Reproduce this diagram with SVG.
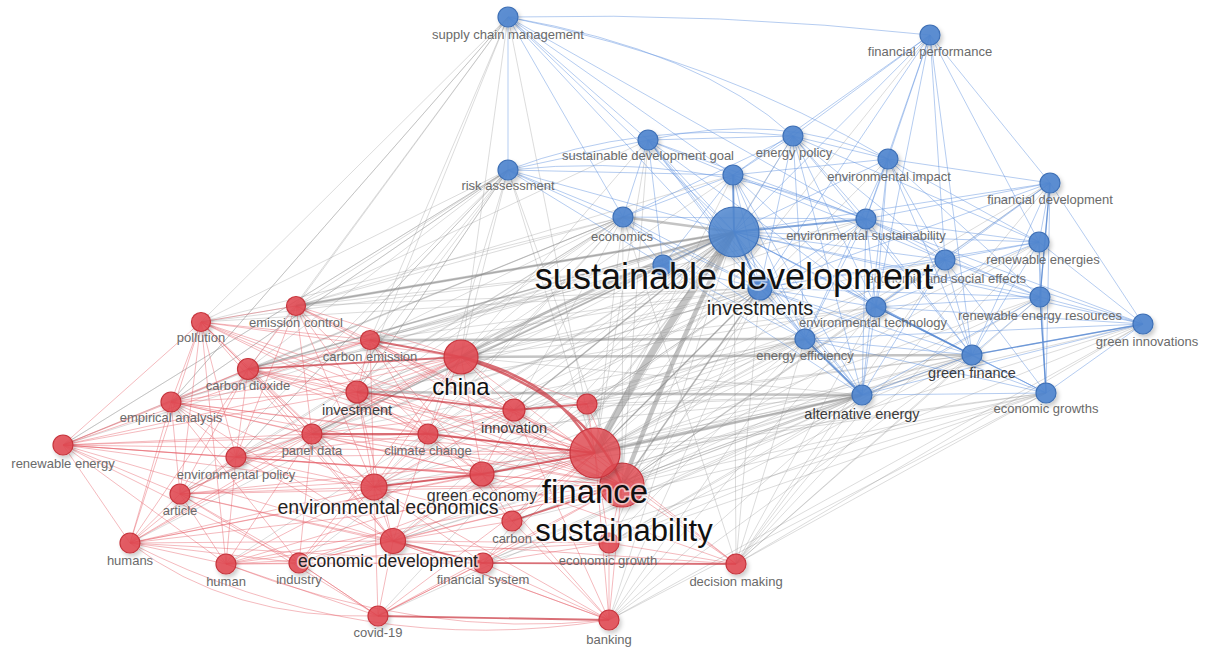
<svg xmlns="http://www.w3.org/2000/svg" width="1205" height="649" viewBox="0 0 1205 649">
<style>
.eg{fill:none;stroke:#8c8c8c;stroke-opacity:.3;stroke-width:1}
.er{fill:none;stroke:#e45a64;stroke-opacity:.42;stroke-width:1}
.eb{fill:none;stroke:#5b8ede;stroke-opacity:.45;stroke-width:1}
.tg{fill:none;stroke:#8a8a8a;stroke-opacity:.5}
.tr{fill:none;stroke:#c9323c;stroke-opacity:.7}
.tb{fill:none;stroke:#4d80cc;stroke-opacity:.7}
.nr{fill:#e14a52;fill-opacity:.88;stroke:#c7353d;stroke-width:1.2;filter:url(#sh)}
.nb{fill:#5086cf;fill-opacity:.92;stroke:#3e70b6;stroke-width:1.2;filter:url(#sh)}
.l{font-family:"Liberation Sans",Arial,sans-serif;font-size:13px;fill:#6a6a6a;text-anchor:middle}
.lm{font-family:"Liberation Sans",Arial,sans-serif;font-size:14.5px;fill:#3c3c3c;text-anchor:middle}
.lb{font-family:"Liberation Sans",Arial,sans-serif;fill:#111;text-anchor:middle;stroke:#fff;stroke-opacity:.6;stroke-width:3.5;paint-order:stroke}
</style>
<defs>
<filter id="sh" x="-60%" y="-60%" width="220%" height="220%"><feDropShadow dx="2" dy="3" stdDeviation="2" flood-color="#000" flood-opacity="0.22"/></filter>
</defs>
<rect width="1205" height="649" fill="#fff"/>
<g id="connectors">
<path class="eg" d="M201 322L508 170M201 322L623 217M201 322L734 232M201 322L760 288M201 322L663 265M201 322L508 17
M296 306L508 170M296 306L623 217M296 306L734 232M296 306L663 265M296 306L760 288M296 306L733 175M296 306L648 140M296 306L508 17
M370 340L734 232M370 340L623 217M370 340L508 170M370 340L760 288M370 340L866 219M370 340L663 265M370 340L508 17
M461 357L734 232M461 357L623 217M461 357L508 170M461 357L760 288M461 357L663 265M461 357L862 395M461 357L648 140M461 357L733 175M461 357L866 219M461 357L876 307M461 357L945 260M461 357L508 17
M248 369L734 232M248 369L623 217M248 369L508 170M248 369L663 265M248 369L760 288M248 369L508 17
M357 392L734 232M357 392L623 217M357 392L760 288M357 392L663 265M357 392L876 307M357 392L508 170
M171 402L734 232M171 402L508 170M171 402L623 217M171 402L663 265M171 402L508 17
M63 445L734 232M63 445L508 170M63 445L623 217
M312 434L734 232M312 434L623 217M312 434L760 288M312 434L508 170M312 434L805 339
M428 434L734 232M428 434L760 288M428 434L623 217M428 434L805 339M428 434L862 395M428 434L508 170
M236 457L734 232M236 457L623 217M236 457L760 288M236 457L508 170
M374 487L734 232M374 487L623 217M374 487L760 288M374 487L862 395M374 487L805 339
M180 494L734 232M180 494L623 217M130 543L734 232M226 564L734 232M299 563L734 232M299 563L862 395
M595 453L760 288M595 453L623 217M595 453L805 339M595 453L862 395M595 453L972 355M595 453L876 307M595 453L866 219M595 453L945 260M595 453L1040 297M595 453L1039 242M595 453L1046 393M595 453L648 140M595 453L733 175M595 453L508 170M595 453L793 136M595 453L888 159M595 453L1143 324M595 453L508 17M595 453L930 35M595 453L1050 183
M622 485L760 288M622 485L862 395M622 485L972 355M622 485L805 339M622 485L876 307M622 485L1046 393M622 485L1040 297M622 485L866 219M622 485L508 170M622 485L1143 324M622 485L1039 242M622 485L945 260M622 485L623 217M622 485L648 140M622 485L1050 183
M736 564L734 232M736 564L862 395M736 564L972 355M736 564L1046 393M736 564L805 339M736 564L760 288M736 564L876 307M736 564L1040 297M736 564L1143 324M736 564L1039 242M736 564L945 260M736 564L623 217M736 564L1050 183
M609 620L734 232M609 620L862 395M609 620L972 355M609 620L1046 393M609 620L760 288M609 620L1143 324M609 620L876 307M609 620L805 339
M609 543L734 232M609 543L862 395M609 543L972 355M609 543L1046 393M609 543L760 288M609 543L1143 324M609 543L1040 297M609 543L805 339
M514 410L734 232M514 410L760 288M514 410L862 395M514 410L805 339M514 410L972 355M514 410L623 217
M587 404L734 232M587 404L760 288M587 404L862 395M587 404L805 339M587 404L972 355M587 404L876 307M587 404L945 260
M482 474L734 232M482 474L862 395M482 474L972 355M482 474L805 339M482 474L760 288M482 474L1046 393
M393 541L734 232M393 541L862 395M393 541L972 355M393 541L760 288
M512 521L734 232M512 521L862 395M512 521L1046 393M512 521L972 355
M483 563L734 232M483 563L862 395M483 563L1046 393M483 563L972 355
M378 616L734 232M378 616L862 395
M508 170L171 402M508 170L63 445M508 170L236 457M508 170L357 392M508 170L180 494
M508 17L171 402M508 17L357 392"/>
<path class="er" d="M63 445L201 322M63 445L248 369M63 445L171 402M63 445L236 457M63 445L180 494M63 445L130 543M63 445L226 564M63 445L312 434M63 445L357 392M63 445L374 487M63 445L595 453M63 445L622 485M63 445L461 357M63 445L393 541M63 445L299 563M63 445L370 340M63 445L428 434M63 445L482 474
M130 543L180 494M130 543L236 457M130 543L171 402M130 543L201 322M130 543L248 369M130 543L312 434M130 543L226 564M130 543L299 563M130 543L393 541M130 543L374 487M130 543L595 453M130 543L622 485M130 543L483 563M130 543L482 474M130 543L461 357M130 543Q230 620 378 616M130 543Q360 660 609 620
M201 322L296 306M201 322L248 369M201 322L171 402M201 322L236 457M201 322L180 494M201 322L312 434M201 322L357 392M201 322L370 340M201 322L461 357M201 322L374 487M201 322L595 453M201 322L622 485M201 322L393 541M201 322L428 434M201 322L226 564
M171 402L248 369M171 402L236 457M171 402L180 494M171 402L312 434M171 402L357 392M171 402L461 357M171 402L595 453M171 402L622 485M171 402L374 487M171 402L393 541M171 402L370 340M171 402L428 434M171 402L482 474M171 402L299 563
M180 494L236 457M180 494L226 564M180 494L299 563M180 494L374 487M180 494L393 541M180 494L312 434M180 494L595 453M180 494L622 485M180 494L482 474M180 494L483 563M180 494L248 369M180 494L378 616M180 494L461 357
M226 564L299 563M226 564L393 541M226 564L374 487M226 564L378 616M226 564L236 457M226 564L312 434M226 564L595 453M226 564L622 485M226 564L483 563M226 564L609 543M226 564Q420 640 609 620
M299 563L393 541M299 563L378 616M299 563L483 563M299 563L374 487M299 563L595 453M299 563L622 485M299 563L461 357M299 563L312 434
M248 369L357 392M248 369L370 340M248 369L312 434M248 369L236 457M248 369L374 487M248 369L428 434M248 369L595 453M248 369L622 485M248 369L514 410M248 369L296 306M248 369L393 541
M296 306L370 340M296 306L461 357M296 306L357 392M296 306L312 434M296 306L428 434M296 306L595 453M296 306L622 485M296 306L374 487M296 306L236 457
M370 340L357 392M370 340L428 434M370 340L595 453M370 340L622 485M370 340L514 410M370 340L374 487M370 340L482 474
M357 392L461 357M357 392L595 453M357 392L622 485M357 392L374 487M357 392L428 434M357 392L482 474M357 392L393 541
M312 434L595 453M312 434L622 485M312 434L374 487M312 434L514 410M312 434L482 474M312 434L393 541M312 434L461 357
M428 434L595 453M428 434L622 485M428 434L482 474M428 434L514 410M428 434L461 357M428 434L374 487M428 434L393 541M428 434L512 521
M236 457L374 487M236 457L595 453M236 457L622 485M236 457L312 434M236 457L393 541M236 457L482 474M236 457L428 434M236 457L461 357
M374 487L622 485M374 487L482 474M374 487L393 541M374 487L512 521M374 487L483 563M374 487L461 357M374 487L514 410
M393 541L595 453M393 541L622 485M393 541L512 521M393 541L482 474M393 541L609 543M393 541L378 616M393 541L609 620
M483 563L595 453M483 563L622 485M483 563L609 543M483 563L609 620M483 563L378 616
M378 616L595 453M378 616L622 485M378 616L374 487M378 616L483 563M378 616L299 563
M609 620L595 453M609 620L622 485M609 620L609 543M609 620L512 521M609 620L393 541M609 620L482 474M609 620L374 487M609 620L514 410
M736 564L595 453M736 564L622 485M736 564L609 543M736 564L482 474M736 564L393 541M736 564L461 357
M461 357L514 410M461 357L587 404M461 357L482 474M587 404L595 453M587 404L622 485M514 410L595 453M514 410L622 485M514 410L482 474
M482 474L512 521M512 521L595 453M609 543L595 453M609 543L622 485"/>
<path class="eb" d="M508 17Q720 12 930 35M508 17L508 170M508 17L648 140M508 17L623 217M508 17L734 232M508 17L733 175M508 17Q720 60 888 159M508 17L760 288M508 17L866 219M508 17Q700 50 793 136
M930 35L793 136M930 35L888 159M930 35L733 175M930 35L734 232M930 35L866 219M930 35L945 260M930 35L1050 183M930 35L1039 242M930 35L760 288M930 35L876 307M930 35L972 355
M648 140L793 136M648 140L508 170M648 140L733 175M648 140L623 217M648 140L734 232M648 140L866 219M648 140L760 288M648 140L663 265M648 140L876 307M648 140L805 339M648 140L862 395M648 140Q780 110 888 159
M793 136L888 159M793 136L733 175M793 136L734 232M793 136L866 219M793 136L623 217M793 136L760 288M793 136L1039 242M793 136L876 307M793 136L805 339M793 136L972 355M793 136L862 395M793 136L945 260M793 136Q640 120 508 170
M888 159L733 175M888 159L734 232M888 159L866 219M888 159L1050 183M888 159L1039 242M888 159L945 260M888 159L876 307M888 159L1040 297M888 159L972 355M888 159L862 395M888 159L805 339
M508 170L733 175M508 170L623 217M508 170L734 232M508 170L663 265M508 170L760 288M508 170Q700 150 866 219
M733 175L623 217M733 175L734 232M733 175L866 219M733 175L760 288M733 175L663 265M733 175L876 307M733 175L805 339M733 175L862 395M733 175L945 260
M1050 183L734 232M1050 183L866 219M1050 183L1039 242M1050 183L945 260M1050 183L1040 297M1050 183L1143 324M1050 183L972 355M1050 183L1046 393M1050 183L876 307M1050 183L760 288
M623 217L663 265M623 217L760 288M623 217L805 339M623 217L866 219
M734 232L1039 242M734 232L945 260M734 232L760 288M734 232L663 265M734 232L876 307M734 232L1040 297M734 232L1143 324M734 232L805 339M734 232L972 355M734 232L862 395M734 232L1046 393
M866 219L1039 242M866 219L945 260M866 219L876 307M866 219L1040 297M866 219L972 355M866 219L760 288M866 219L805 339M866 219L862 395M866 219L1143 324
M1039 242L945 260M1039 242L1040 297M1039 242L1143 324M1039 242L972 355M1039 242L1046 393M1039 242L876 307M1039 242L760 288
M945 260L876 307M945 260L1040 297M945 260L972 355M945 260L1046 393M945 260L1143 324M945 260L760 288M945 260L862 395
M760 288L876 307M760 288L805 339M760 288L972 355M760 288L862 395M760 288L663 265M760 288L1040 297M760 288L1046 393
M876 307L1040 297M876 307L805 339M876 307L972 355M876 307L862 395M876 307L1046 393M876 307L1143 324
M1040 297L1143 324M1040 297L972 355M1040 297L1046 393M1040 297L862 395
M1143 324L972 355M1143 324L1046 393M1143 324L862 395M1143 324L805 339
M805 339L972 355M805 339L862 395M805 339L1046 393M972 355L862 395M972 355L1046 393M862 395L1046 393M663 265L805 339M663 265L862 395"/>
<path class="tg" stroke-width="7" d="M595 453Q660 330 734 232"/>
<path class="tg" stroke-width="4.5" d="M622 485Q675 350 734 232"/>
<path class="tg" stroke-width="2.5" d="M461 357Q600 280 734 232M623 217L734 232M370 340L805 339M461 357L972 355M357 392L862 395M595 453L862 395M296 306L734 232"/>
<path class="tg" stroke-width="1.6" d="M595 453L760 288M622 485L760 288M514 410L734 232M248 369L734 232M312 434L734 232"/>
<path class="tb" stroke-width="2" d="M734 232L866 219M734 232L733 175M734 232L760 288M805 339L862 395"/>
<path class="tb" stroke-width="1.4" d="M1050 183L1040 297M1040 297L1046 393M972 355L1143 324M876 307L972 355"/>
<path class="tr" stroke-width="2.5" d="M461 357Q560 380 595 453M461 357Q590 400 622 485"/>
<path class="tr" stroke-width="1.8" d="M514 410L587 404M312 434L428 434M374 487L482 474M482 474L595 453M393 541L483 563M483 563L736 564M512 521L622 485M248 369L461 357M357 392L514 410M370 340L461 357M378 616L609 620M428 434L595 453"/>
</g>
<g id="n-supply-chain-management"><circle class="nb" cx="508" cy="17" r="10"/><text class="l" x="508" y="39">supply chain management</text></g>
<g id="n-financial-performance"><circle class="nb" cx="930" cy="35" r="10"/><text class="l" x="930" y="56">financial performance</text></g>
<g id="n-sustainable-development-goal"><circle class="nb" cx="648" cy="140" r="10"/><text class="l" x="648" y="160">sustainable development goal</text></g>
<g id="n-energy-policy"><circle class="nb" cx="793" cy="136" r="10"/><text class="l" x="794" y="157">energy policy</text></g>
<g id="n-environmental-impact"><circle class="nb" cx="888" cy="159" r="10"/><text class="l" x="889" y="181">environmental impact</text></g>
<g id="n-risk-assessment"><circle class="nb" cx="508" cy="170" r="10"/><text class="l" x="508" y="190">risk assessment</text></g>
<g id="n-blue-a"><circle class="nb" cx="733" cy="175" r="10"/></g>
<g id="n-financial-development"><circle class="nb" cx="1050" cy="183" r="10"/><text class="l" x="1050" y="204">financial development</text></g>
<g id="n-economics"><circle class="nb" cx="623" cy="217" r="10"/><text class="l" x="622" y="241">economics</text></g>
<g id="n-environmental-sustainability"><circle class="nb" cx="866" cy="219" r="10"/><text class="l" x="866" y="240">environmental sustainability</text></g>
<g id="n-renewable-energies"><circle class="nb" cx="1039" cy="242" r="10"/><text class="l" x="1043" y="264">renewable energies</text></g>
<g id="n-social-effects"><circle class="nb" cx="945" cy="260" r="10"/><text class="l" x="1026" y="283" style="text-anchor:end">economic and social effects</text></g>
<g id="n-environmental-technology"><circle class="nb" cx="876" cy="307" r="10"/><text class="l" x="873" y="327">environmental technology</text></g>
<g id="n-renewable-energy-resources"><circle class="nb" cx="1040" cy="297" r="10"/><text class="l" x="1040" y="320">renewable energy resources</text></g>
<g id="n-green-innovations"><circle class="nb" cx="1143" cy="324" r="10"/><text class="l" x="1147" y="346">green innovations</text></g>
<g id="n-energy-efficiency"><circle class="nb" cx="805" cy="339" r="10"/><text class="l" x="805" y="360">energy efficiency</text></g>
<g id="n-green-finance"><circle class="nb" cx="972" cy="355" r="10"/><text class="lm" x="972" y="378">green finance</text></g>
<g id="n-alternative-energy"><circle class="nb" cx="862" cy="395" r="10"/><text class="lm" x="862" y="419">alternative energy</text></g>
<g id="n-economic-growths"><circle class="nb" cx="1046" cy="393" r="10"/><text class="l" x="1046" y="413">economic growths</text></g>
<g id="n-blue-b"><circle class="nb" cx="663" cy="265" r="10"/></g>
<g id="n-pollution"><circle class="nr" cx="201" cy="322" r="9.5"/><text class="l" x="201" y="342">pollution</text></g>
<g id="n-emission-control"><circle class="nr" cx="296" cy="306" r="9.5"/><text class="l" x="296" y="327">emission control</text></g>
<g id="n-carbon-emission"><circle class="nr" cx="370" cy="340" r="9.5"/><text class="l" x="370" y="361">carbon emission</text></g>
<g id="n-carbon-dioxide"><circle class="nr" cx="248" cy="369" r="10.5"/><text class="l" x="248" y="390">carbon dioxide</text></g>
<g id="n-investment"><circle class="nr" cx="357" cy="392" r="11"/><text class="lm" x="357" y="415">investment</text></g>
<g id="n-empirical-analysis"><circle class="nr" cx="171" cy="402" r="10"/><text class="l" x="171" y="422">empirical analysis</text></g>
<g id="n-red-a"><circle class="nr" cx="587" cy="404" r="10"/></g>
<g id="n-innovation"><circle class="nr" cx="514" cy="410" r="11"/><text class="lm" x="514" y="433">innovation</text></g>
<g id="n-panel-data"><circle class="nr" cx="312" cy="434" r="10"/><text class="l" x="312" y="455">panel data</text></g>
<g id="n-climate-change"><circle class="nr" cx="428" cy="434" r="10"/><text class="l" x="428" y="455">climate change</text></g>
<g id="n-renewable-energy"><circle class="nr" cx="63" cy="445" r="10"/><text class="l" x="63" y="468">renewable energy</text></g>
<g id="n-environmental-policy"><circle class="nr" cx="236" cy="457" r="10"/><text class="l" x="236" y="479">environmental policy</text></g>
<g id="n-article"><circle class="nr" cx="180" cy="494" r="10"/><text class="l" x="180" y="515">article</text></g>
<g id="n-humans"><circle class="nr" cx="130" cy="543" r="10"/><text class="l" x="130" y="565">humans</text></g>
<g id="n-human"><circle class="nr" cx="226" cy="564" r="10"/><text class="l" x="226" y="586">human</text></g>
<g id="n-industry"><circle class="nr" cx="299" cy="563" r="10"/><text class="l" x="299" y="584">industry</text></g>
<g id="n-financial-system"><circle class="nr" cx="483" cy="563" r="10"/><text class="l" x="483" y="584">financial system</text></g>
<g id="n-decision-making"><circle class="nr" cx="736" cy="564" r="10"/><text class="l" x="736" y="586">decision making</text></g>
<g id="n-covid-19"><circle class="nr" cx="378" cy="616" r="10"/><text class="l" x="378" y="637">covid-19</text></g>
<g id="n-banking"><circle class="nr" cx="609" cy="620" r="10"/><text class="l" x="609" y="644">banking</text></g>
<g id="n-carbon"><circle class="nr" cx="512" cy="521" r="10"/><text class="l" x="512" y="543">carbon</text></g>
<g id="n-economic-growth"><circle class="nr" cx="609" cy="543" r="10"/><text class="l" x="608" y="565">economic growth</text></g>
<g id="n-green-economy"><circle class="nr" cx="482" cy="474" r="12"/><text class="lb" x="482" y="501" style="font-size:16px;fill:#333">green economy</text></g>
<g id="n-environmental-economics"><circle class="nr" cx="374" cy="487" r="13"/><text class="lb" x="388" y="514" style="font-size:19.5px;fill:#222">environmental economics</text></g>
<g id="n-economic-development"><circle class="nr" cx="393" cy="541" r="12.5"/><text class="lb" x="388" y="567" style="font-size:17.5px;fill:#222">economic development</text></g>
<g id="n-china"><circle class="nr" cx="461" cy="357" r="17"/><text class="lb" x="461" y="395" style="font-size:24px">china</text></g>
<g id="n-sustainability"><circle class="nr" cx="622" cy="485" r="22" style="fill-opacity:.8"/><text class="lb" x="624" y="541" style="font-size:31px">sustainability</text></g>
<g id="n-finance"><circle class="nr" cx="595" cy="453" r="25" style="fill-opacity:.8"/><text class="lb" x="595" y="503" style="font-size:33px">finance</text></g>
<g id="n-investments"><circle class="nb" cx="760" cy="288" r="12"/><text class="lb" x="760" y="315" style="font-size:20px;fill:#222">investments</text></g>
<g id="n-sustainable-development"><circle class="nb" cx="734" cy="232" r="25" style="fill-opacity:.85"/><text class="lb" x="734" y="289" style="font-size:36px">sustainable development</text></g>
</svg>
